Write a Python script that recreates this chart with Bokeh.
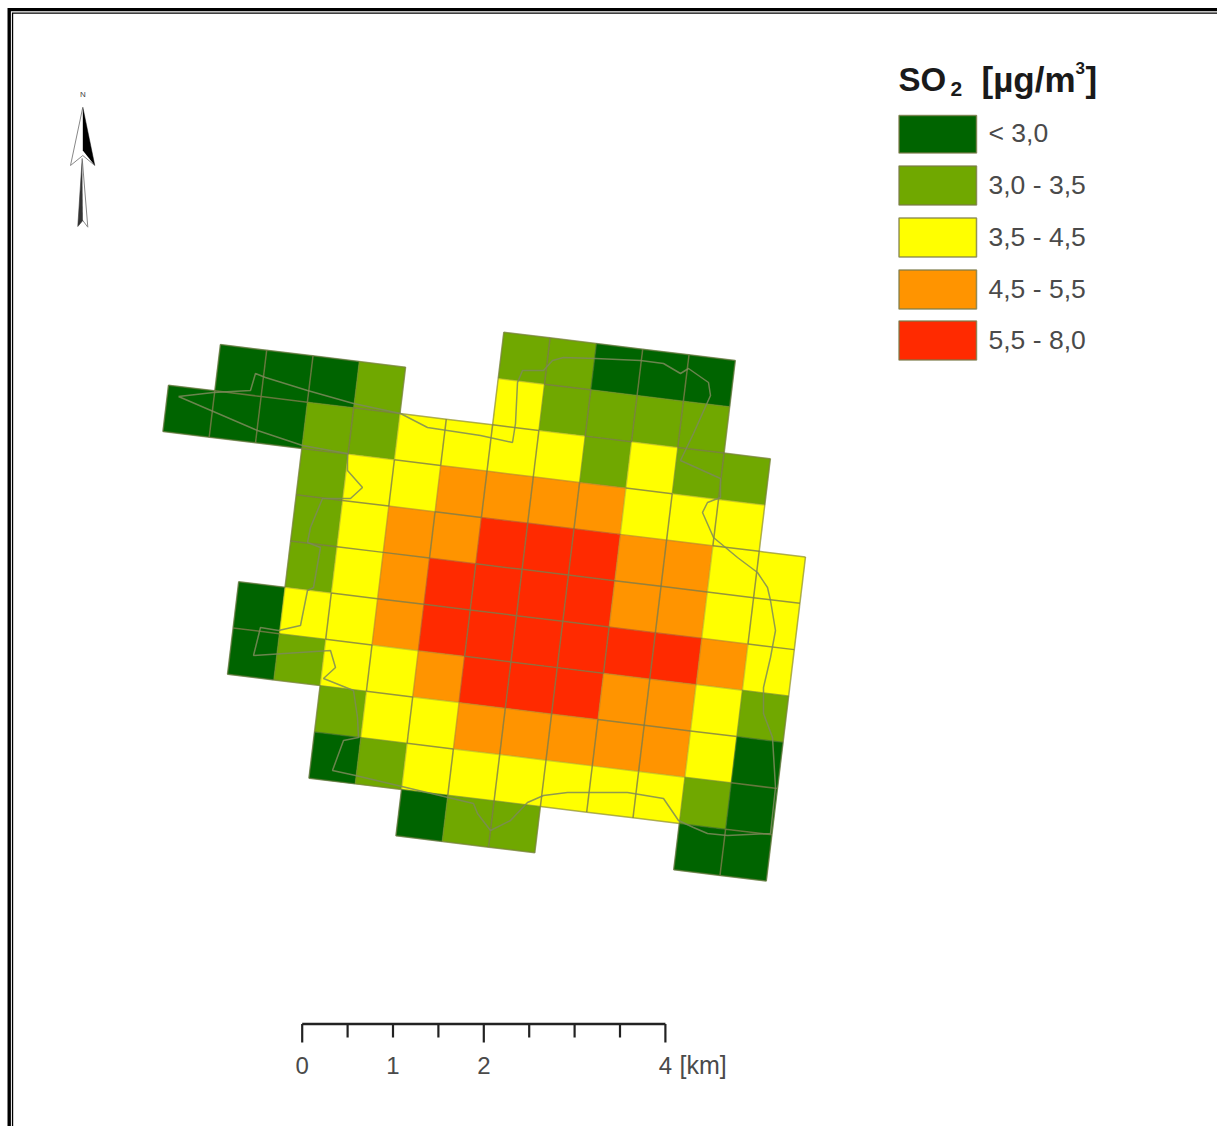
from bokeh.plotting import figure
from bokeh.models import Range1d, ColumnDataSource
from bokeh.core.properties import value
from bokeh.embed import file_html
from bokeh.resources import INLINE

# ---- data: SO2 class of each 0.5 km grid cell, per row (None = outside the grid)
class_labels = ["< 3,0", "3,0 - 3,5", "3,5 - 4,5", "4,5 - 5,5", "5,5 - 8,0"]
class_colors = ["#006400", "#70a800", "#ffff00", "#ff9400", "#ff2a00"]
N = None
row_start = [0, -6, -7, -4, -4, -4, -5, -5, -3, -3, -1]
row_00 = [1, 1, 0, 0, 0]
row_01 = [0, 0, 0, 1, N, N, 2, 1, 1, 1, 1]
row_02 = [0, 0, 0, 1, 1, 2, 2, 2, 2, 1, 2, 1, 1]
row_03 = [1, 2, 2, 3, 3, 3, 3, 2, 2, 2]
row_04 = [1, 2, 3, 3, 4, 4, 4, 3, 3, 2, 2]
row_05 = [1, 2, 3, 4, 4, 4, 4, 3, 3, 2, 2]
row_06 = [0, 2, 2, 3, 4, 4, 4, 4, 4, 4, 3, 2]
row_07 = [0, 1, 2, 2, 3, 4, 4, 4, 3, 3, 2, 1]
row_08 = [1, 2, 2, 3, 3, 3, 3, 3, 2, 0]
row_09 = [0, 1, 2, 2, 2, 2, 2, 2, 1, 0]
row_10 = [0, 1, 1, N, N, N, 0, 0]
rows = [row_00, row_01, row_02, row_03, row_04, row_05, row_06, row_07, row_08, row_09, row_10]

# city boundary (map coordinates)
city_x = [178, 213, 250, 255, 265, 307, 353, 400, 427, 480, 512, 515, 517, 522, 543, 552, 563, 595, 640,
          663, 680, 688, 708, 710, 693, 680, 720, 720, 707, 702, 713, 737, 757, 767, 770, 775, 770, 763,
          763, 772, 775, 770, 727, 707, 693, 678, 663, 627, 567, 543, 527, 510, 490, 477, 473, 355, 332,
          343, 358, 357, 353, 323, 335, 330, 253, 260, 278, 300, 305, 307, 313, 320, 307, 310, 322, 342,
          350, 362, 347, 347, 302, 257, 178]
city_y = [396, 392, 390, 373, 377, 390, 403, 413, 427, 435, 442, 423, 382, 370, 370, 360, 357, 358, 360,
          363, 373, 368, 382, 395, 433, 460, 478, 497, 502, 512, 537, 557, 572, 587, 600, 630, 657, 687,
          713, 737, 787, 833, 835, 833, 827, 820, 798, 792, 792, 795, 802, 820, 830, 813, 803, 775, 770,
          740, 737, 717, 690, 678, 667, 650, 655, 627, 630, 625, 600, 590, 587, 547, 542, 527, 498, 498,
          498, 487, 470, 453, 445, 430, 396]

scale_km = [0, 0.5, 1, 1.5, 2, 2.5, 3, 3.5, 4]
scale_long = [0, 2, 4]
scale_labels = ["0", "1", "2", "4"]
scale_label_km = [0, 1, 2, 4]

# ---- map projection: grid index -> page-like coordinates
ORIGIN = (503.3, 331.7)
U = (46.3, 5.66)
V = (-5.6, 46.3)
PX_PER_KM = 90.8
SCALE_X0 = 301.7


def P(i, j):
    return ORIGIN[0] + i * U[0] + j * V[0], ORIGIN[1] + i * U[1] + j * V[1]


cells = {}
for j, (start, row) in enumerate(zip(row_start, rows)):
    for k, c in enumerate(row):
        if c is not None:
            cells[(start + k, j)] = c

p = figure(width=1217, height=1126, output_backend="svg", toolbar_location=None,
           x_axis_type=None, y_axis_type=None, min_border=0, outline_line_color=None,
           x_range=Range1d(0, 1217), y_range=Range1d(1126, 0), background_fill_color="white",
           border_fill_color="white")
p.grid.visible = False

# frame (only top and left show)
for xs, ys in [([7, 1217, 1217, 10.4, 10.4, 7], [7.6, 7.6, 10.8, 10.8, 1126, 1126]),
               ([11.4, 1217, 1217, 12.7, 12.7, 11.4], [12, 12, 13.2, 13.2, 1126, 1126])]:
    p.patch(xs, ys, fill_color="black", line_color=None)

# cells
xs, ys, cols = [], [], []
for (i, j), c in cells.items():
    pts = [P(i, j), P(i + 1, j), P(i + 1, j + 1), P(i, j + 1)]
    xs.append([q[0] for q in pts])
    ys.append([q[1] for q in pts])
    cols.append(class_colors[c])
p.patches(xs="xs", ys="ys", fill_color="cols", line_color="cols", line_width=0.5,
          source=ColumnDataSource(dict(xs=xs, ys=ys, cols=cols)))

# cell edges
ex, ey, ea = [], [], []
for (i, j), c in cells.items():
    for (a, b, nb) in [(P(i, j), P(i + 1, j), (i, j - 1)), (P(i, j), P(i, j + 1), (i - 1, j)),
                       (P(i + 1, j), P(i + 1, j + 1), (i + 1, j)), (P(i, j + 1), P(i + 1, j + 1), (i, j + 1))]:
        other = cells.get(nb)
        if other is not None and nb < (i, j):
            continue
        if other is None:
            al = 0.6
        elif other == c:
            al = 0.8
        else:
            al = 0.35
        ex.append([a[0], b[0]])
        ey.append([a[1], b[1]])
        ea.append(al)
p.multi_line(xs="ex", ys="ey", line_alpha="ea", line_color="#7a7a48", line_width=1.5,
             source=ColumnDataSource(dict(ex=ex, ey=ey, ea=ea)))

# city boundary
p.line(city_x, city_y, line_color="#7d8a5a", line_width=1.5, line_alpha=0.85)

# legend
LEG_X0, LEG_X1 = 898.5, 976
leg_top = [115, 165.5, 217.5, 269.5, 320.5]
leg_h = [37.5, 39, 39, 39, 39]
for t, h, col, lab in zip(leg_top, leg_h, class_colors, class_labels):
    p.patch([LEG_X0, LEG_X1, LEG_X1, LEG_X0], [t, t, t + h, t + h], fill_color=col,
            line_color="#7a7a48", line_width=1.5, line_alpha=0.8)
    p.text([988], [t + h / 2 - 1], text=[lab], text_font=value("Liberation Sans"), text_font_size="26.5px",
           text_color="#4a4a4a", text_baseline="middle", text_align="left")

TITLE = "#1a1a1a"
for x, y, s, size in [(898, 78.5, "SO", "33px"), (950, 88.5, "2", "21px"), (981, 78.5, "[µg/m", "35px"),
                      (1075, 67.5, "3", "17px"), (1085, 78.5, "]", "35px")]:
    p.text([x], [y], text=[s], text_font=value("Liberation Sans"), text_font_style="bold", text_font_size=size,
           text_color=TITLE, text_baseline="middle", text_align="left")

# scale bar
SB_Y, SB_LONG, SB_SHORT = 1023.5, 1042, 1037
sx = [SCALE_X0 + k * PX_PER_KM for k in scale_km]
p.line([sx[0], sx[-1]], [SB_Y, SB_Y], line_color="#222222", line_width=2.4)
p.segment(sx, [SB_Y] * len(sx), sx, [SB_LONG if k in scale_long else SB_SHORT for k in scale_km],
          line_color="#222222", line_width=2.2)
p.text([SCALE_X0 + k * PX_PER_KM for k in scale_label_km], [1064.5] * 4, text=scale_labels,
       text_font=value("Liberation Sans"), text_font_size="24px", text_color="#4a4a4a",
       text_align="center", text_baseline="middle")
p.text([679], [1064.5], text=["[km]"], text_font=value("Liberation Sans"), text_font_size="25px",
       text_color="#4a4a4a", text_align="left", text_baseline="middle")

# north arrow
p.text([82.3], [94], text=["N"], text_font=value("Liberation Sans"), text_font_size="8px", text_color="#444444",
       text_align="center", text_baseline="middle")
p.patch([82.3, 70, 82.3, 94.3], [106.7, 165, 155, 165], fill_color="white", line_color="#888888", line_width=1)
p.patch([82.3, 94.3, 82.3], [106.7, 165, 150], fill_color="black", line_color=None)
p.patch([81.7, 87.3, 82.3, 77.3], [158, 226.7, 220, 226], fill_color="white", line_color="#888888", line_width=1)
p.patch([81.7, 82.3, 77.3], [158, 220, 226], fill_color="#333333", line_color=None)

open("out.html", "w").write(file_html(p, INLINE))
